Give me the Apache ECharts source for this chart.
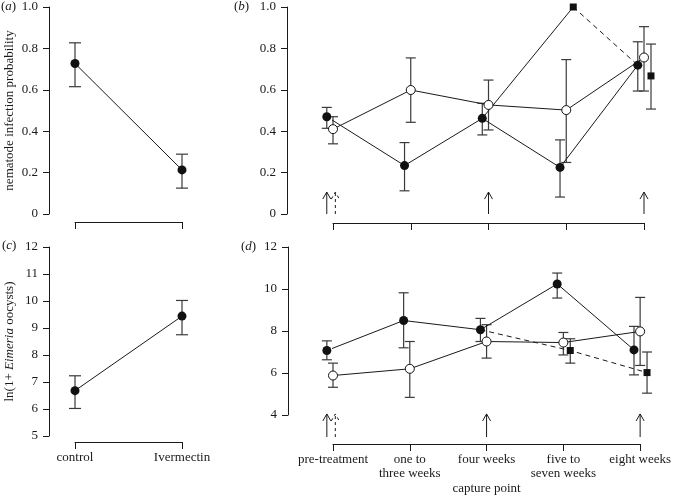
<!DOCTYPE html>
<html><head><meta charset="utf-8">
<script src="https://cdn.jsdelivr.net/npm/echarts@6/dist/echarts.min.js"></script>
<style>html,body{margin:0;padding:0;background:#fff}#c{width:674px;height:496px}</style>
</head><body><div id="c"></div>
<script>
// ---- Panels (a) and (c): treatment comparison ----
const treatCats = ['control', 'Ivermectin'];
const aMean = [0.727, 0.213];
const aLow  = [0.615, 0.125];
const aHigh = [0.827, 0.289];
const cMean = [6.68, 9.44];
const cLow  = [6.02, 8.75];
const cHigh = [7.23, 10.02];

// ---- Panels (b) and (d): capture points ----
const captureCats = ['pre-treatment', 'one to\nthree weeks', 'four weeks', 'five to\nseven weeks', 'eight weeks'];
// filled circles
const bFilled     = [0.47, 0.234, 0.462, 0.225, 0.719];
const bFilledLow  = [0.414, 0.112, 0.382, 0.082, 0.594];
const bFilledHigh = [0.515, 0.345, 0.535, 0.358, 0.832];
// open circles
const bOpen     = [0.41, 0.599, 0.527, 0.502, 0.756];
const bOpenLow  = [0.339, 0.443, 0.406, 0.249, 0.594];
const bOpenHigh = [0.47, 0.754, 0.647, 0.746, 0.905];
// filled squares
const bSquare     = [null, null, null, 1.0, 0.667];
const bSquareLow  = [null, null, null, null, 0.507];
const bSquareHigh = [null, null, null, null, 0.821];

const dFilled     = [7.07, 8.5, 8.06, 10.24, 7.1];
const dFilledLow  = [6.63, 7.2, 7.5, 9.57, 5.91];
const dFilledHigh = [7.53, 9.82, 8.6, 10.76, 8.22];
const dOpen     = [5.88, 6.2, 7.5, 7.45, 7.98];
const dOpenLow  = [5.32, 4.84, 6.71, 6.86, 6.36];
const dOpenHigh = [6.47, 7.5, 8.3, 7.93, 9.6];
const dSquare     = [null, null, null, 7.07, 6.02];
const dSquareLow  = [null, null, null, 6.47, 5.04];
const dSquareHigh = [null, null, null, 7.63, 7.0];

// treatment arrows (capture index) and their vertical extent
const solidArrowIdx = [0, 2, 4];
const dashedArrowIdx = [0];
const bArrowRange = [0, 0.106];
const dArrowRange = [2.95, 4.05];

// y-axis ticks
const bTicks = [0, 0.2, 0.4, 0.6, 0.8, 1.0];
const cTicks = [5, 6, 7, 8, 9, 10, 11, 12];
const dTicks = [4, 6, 8, 10, 12];

const FONT = 'Liberation Serif';
const INK = '#1a1a1a';
const BAR = '#3a3a3a';
const OFF_F = -0.08, OFF_O = 0, OFF_S = 0.09;

function pts(vals, off) {
  const r = [];
  vals.forEach((v, i) => { if (v != null) r.push([i + 1 + off, v]); });
  return r;
}
function bars(lo, hi, off) {
  const r = [];
  lo.forEach((v, i) => { if (v != null && hi[i] != null) r.push([i + 1 + off, v, hi[i]]); });
  return r;
}
function errSeries(gi, data, cap) {
  return {
    type: 'custom', xAxisIndex: gi, yAxisIndex: gi, z: 2, silent: true,
    renderItem: function (params, api) {
      const x = api.value(0);
      const p1 = api.coord([x, api.value(1)]);
      const p2 = api.coord([x, api.value(2)]);
      const st = { stroke: BAR, lineWidth: 1.2 };
      return { type: 'group', children: [
        { type: 'line', shape: { x1: p1[0], y1: p1[1], x2: p2[0], y2: p2[1] }, style: st },
        { type: 'line', shape: { x1: p1[0] - cap, y1: p1[1], x2: p1[0] + cap, y2: p1[1] }, style: st },
        { type: 'line', shape: { x1: p2[0] - cap, y1: p2[1], x2: p2[0] + cap, y2: p2[1] }, style: st }
      ]};
    },
    data: data
  };
}
function lineSeries(gi, data, dashed) {
  return {
    type: 'line', xAxisIndex: gi, yAxisIndex: gi, z: 3, silent: true, clip: false,
    symbol: 'none', data: data, animation: false,
    lineStyle: { color: INK, width: 1, type: dashed ? [5, 4] : 'solid' }
  };
}
function markSeries(gi, data, kind) {
  const s = {
    type: 'scatter', xAxisIndex: gi, yAxisIndex: gi, z: 5, silent: true, clip: false,
    data: data, animation: false
  };
  if (kind === 'filled') { s.symbol = 'circle'; s.symbolSize = 9; s.itemStyle = { color: '#111', opacity: 1 }; }
  if (kind === 'open') { s.symbol = 'circle'; s.symbolSize = 9; s.itemStyle = { color: '#fff', borderColor: '#111', borderWidth: 1, opacity: 1 }; }
  if (kind === 'square') { s.symbol = 'rect'; s.symbolSize = 7; s.itemStyle = { color: '#111', opacity: 1 }; }
  return s;
}
function arrowSeries(gi, data, dashed) {
  return {
    type: 'custom', xAxisIndex: gi, yAxisIndex: gi, z: 4, silent: true,
    renderItem: function (params, api) {
      const x = api.value(0);
      const b = api.coord([x, api.value(1)]);
      const t = api.coord([x, api.value(2)]);
      const st = { stroke: INK, lineWidth: 1, lineDash: dashed ? [3, 3] : null, fill: null };
      return { type: 'group', children: [
        { type: 'line', shape: { x1: b[0], y1: b[1], x2: t[0], y2: t[1] }, style: st },
        { type: 'polyline', shape: { points: [[t[0] - 4, t[1] + 7], [t[0], t[1]], [t[0] + 4, t[1] + 7]] }, style: st }
      ]};
    },
    data: data
  };
}
function arrowData(idx, off, range) {
  return idx.map(i => [i + 1 + off, range[0], range[1]]);
}

const axisTxt = { fontFamily: FONT, fontSize: 13, color: INK };
function yAx(gi, min, max, interval, offset, fmt, name, nameExtra) {
  return Object.assign({
    type: 'value', gridIndex: gi, min: min, max: max, interval: interval, offset: offset,
    axisLine: { show: true, onZero: false, lineStyle: { color: INK, width: 1 } },
    axisTick: { show: true, inside: false, length: 6, lineStyle: { color: INK } },
    axisLabel: Object.assign({ margin: 11, formatter: fmt }, axisTxt),
    splitLine: { show: false },
    name: name || '', nameLocation: 'middle', nameGap: 33,
    nameTextStyle: Object.assign({}, axisTxt)
  }, nameExtra || {});
}
function xAx(gi, max, offset, labels, extra) {
  return Object.assign({
    type: 'value', gridIndex: gi, min: 1, max: max, interval: 1, offset: offset,
    axisLine: { show: true, onZero: false, lineStyle: { color: INK, width: 1 } },
    axisTick: { show: true, inside: false, length: 7, lineStyle: { color: INK } },
    axisLabel: Object.assign({ show: !!labels, margin: 9, lineHeight: 14,
      formatter: v => labels ? (labels[Math.round(v) - 1] || '') : '' }, axisTxt),
    splitLine: { show: false }
  }, extra || {});
}
const fmt1 = v => v === 0 ? '0' : v.toFixed(1);
const fmtInt = v => String(v);

const chart = echarts.init(document.getElementById('c'), null, { renderer: 'canvas' });
chart.setOption({
  animation: false,
  backgroundColor: '#fff',
  grid: [
    { left: 75, top: 7, width: 107, height: 207 },
    { left: 333, top: 7, width: 311, height: 207 },
    { left: 75, top: 247, width: 107, height: 189 },
    { left: 333, top: 247, width: 311, height: 168 }
  ],
  xAxis: [
    xAx(0, 2, 8, null),
    xAx(1, 5, 9, null),
    xAx(2, 2, 6, treatCats),
    xAx(3, 5, 29, captureCats, { name: 'capture point', nameLocation: 'middle', nameGap: 37,
      nameTextStyle: Object.assign({}, axisTxt) })
  ],
  yAxis: [
    yAx(0, bTicks[0], bTicks[bTicks.length - 1], 0.2, 26, fmt1, 'nematode infection probability'),
    yAx(1, bTicks[0], bTicks[bTicks.length - 1], 0.2, 46, fmt1),
    yAx(2, cTicks[0], cTicks[cTicks.length - 1], 1, 26, fmtInt, 'ln(1+ {i|Eimeria} oocysts)', {
      nameTextStyle: Object.assign({ rich: { i: { fontFamily: FONT, fontSize: 13, fontStyle: 'italic', color: INK } } }, axisTxt)
    }),
    yAx(3, dTicks[0], dTicks[dTicks.length - 1], 2, 45, fmtInt)
  ],
  graphic: [
    { type: 'text', left: 1, top: 0, style: { text: '({i|a})', font: '13px ' + FONT, fill: INK, rich: { i: { fontStyle: 'italic', fontFamily: FONT, fontSize: 13 } } } },
    { type: 'text', left: 234, top: 0, style: { text: '({i|b})', font: '13px ' + FONT, fill: INK, rich: { i: { fontStyle: 'italic', fontFamily: FONT, fontSize: 13 } } } },
    { type: 'text', left: 2, top: 239, style: { text: '({i|c})', font: '13px ' + FONT, fill: INK, rich: { i: { fontStyle: 'italic', fontFamily: FONT, fontSize: 13 } } } },
    { type: 'text', left: 241, top: 240, style: { text: '({i|d})', font: '13px ' + FONT, fill: INK, rich: { i: { fontStyle: 'italic', fontFamily: FONT, fontSize: 13 } } } }
  ],
  series: [
    // (a)
    errSeries(0, bars(aLow, aHigh, 0), 6),
    lineSeries(0, pts(aMean, 0)),
    markSeries(0, pts(aMean, 0), 'filled'),
    // (b)
    errSeries(1, bars(bFilledLow, bFilledHigh, OFF_F), 5),
    errSeries(1, bars(bOpenLow, bOpenHigh, OFF_O), 5),
    errSeries(1, bars(bSquareLow, bSquareHigh, OFF_S), 5),
    lineSeries(1, pts(bFilled, OFF_F)),
    lineSeries(1, pts(bOpen, OFF_O)),
    lineSeries(1, [[3 + OFF_F, bFilled[2]], [4 + OFF_S, bSquare[3]]]),
    lineSeries(1, [[4 + OFF_S, bSquare[3]], [5 + OFF_F, bFilled[4]]], true),
    markSeries(1, pts(bFilled, OFF_F), 'filled'),
    markSeries(1, pts(bOpen, OFF_O), 'open'),
    markSeries(1, pts(bSquare, OFF_S), 'square'),
    arrowSeries(1, arrowData(solidArrowIdx.slice(0, 1), OFF_F, bArrowRange).concat(arrowData(solidArrowIdx.slice(1), 0, bArrowRange)), false),
    arrowSeries(1, arrowData(dashedArrowIdx, 0.03, bArrowRange), true),
    // (c)
    errSeries(2, bars(cLow, cHigh, 0), 6),
    lineSeries(2, pts(cMean, 0)),
    markSeries(2, pts(cMean, 0), 'filled'),
    // (d)
    errSeries(3, bars(dFilledLow, dFilledHigh, OFF_F), 5),
    errSeries(3, bars(dOpenLow, dOpenHigh, OFF_O), 5),
    errSeries(3, bars(dSquareLow, dSquareHigh, OFF_S), 5),
    lineSeries(3, pts(dFilled, OFF_F)),
    lineSeries(3, pts(dOpen, OFF_O)),
    lineSeries(3, [[3 + OFF_F, dFilled[2]], [4 + OFF_S, dSquare[3]], [5 + OFF_S, dSquare[4]]], true),
    markSeries(3, pts(dFilled, OFF_F), 'filled'),
    markSeries(3, pts(dOpen, OFF_O), 'open'),
    markSeries(3, pts(dSquare, OFF_S), 'square'),
    arrowSeries(3, arrowData(solidArrowIdx.slice(0, 1), OFF_F, dArrowRange).concat(arrowData(solidArrowIdx.slice(1), 0, dArrowRange)), false),
    arrowSeries(3, arrowData(dashedArrowIdx, 0.03, dArrowRange), true)
  ]
});
</script>
</body></html>
